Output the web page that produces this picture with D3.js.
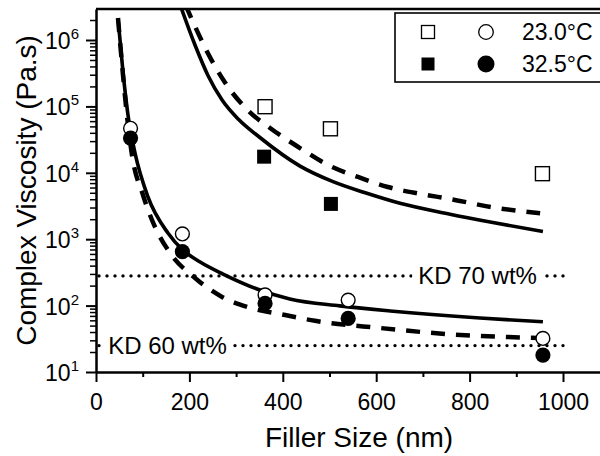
<!DOCTYPE html>
<html>
<head>
<meta charset="utf-8">
<script src="https://cdn.jsdelivr.net/npm/d3@7"></script>
<style>
  html, body { margin: 0; padding: 0; background: #fff; }
  svg { display: block; }
  svg text { font-family: "Liberation Sans", Arial, Helvetica, sans-serif; fill: #000; }
</style>
</head>
<body>
<svg id="chart" width="600" height="456"></svg>
<script>
// Measured complex viscosity (Pa.s) against filler size (nm)
const circleSizes = [74, 185, 362, 540, 957];
const circles23 = [46800, 1200, 145, 121, 32];
const circles32 = [33400, 650, 108, 64, 18];

const squareSizes23 = [362, 502, 956];
const squares23 = [99000, 46000, 9700];
const squareSizes32 = [360, 503];
const squares32 = [17500, 3400];

// Model curves, [filler size, viscosity]
const circleFitSolid = [[47.1, 2.14e6], [57.8, 3.3e5], [68.5, 7.4e4], [83.5, 1.99e4], [111.3, 4330],
  [154, 1240], [186, 687], [223, 454], [272, 299], [345, 178], [415, 126], [522, 99], [630, 83],
  [822, 65], [957, 57]];
const circleFitDashed = [[47.1, 2.14e6], [57.8, 2.97e5], [68.5, 5.25e4], [77.1, 1.85e4], [100.6, 4630],
  [126.3, 1530], [158.5, 620], [212, 261], [270, 135], [325, 95], [405, 72], [469, 59], [608, 46],
  [758, 37], [951, 32.5]];
const squareFitSolid = [[181, 3.25e6], [212, 8.4e5], [240, 2.9e5], [270, 1.25e5], [305, 6.4e4], [351, 3.4e4],
  [437, 1.26e4], [507.5, 7350], [580, 4910], [651, 3470], [758, 2380], [844, 1815], [957, 1306]];
const squareFitDashed = [[191.6, 3.37e6], [206.6, 1.95e6], [238.8, 6.48e5], [276.2, 2.29e5],
  [324.4, 8.84e4], [372.6, 4.73e4], [436.8, 2.36e4], [496.8, 1.31e4], [561, 8650], [625, 6110],
  [696, 4800], [758, 4030], [859, 2950], [951, 2450]];

// Reference levels (Krieger-Dougherty)
const kdLabels = ["KD 70 wt%", "KD 60 wt%"];
const kdValues = [280, 25];

const xMajorTicks = [0, 200, 400, 600, 800, 1000];
const xMinorTicks = [100, 300, 500, 700, 900, 1100];
const yMajorExponents = [1, 2, 3, 4, 5, 6];

const legendLabels = ["23.0°C", "32.5°C"];

(function draw() {
  const svg = d3.select("#chart");
  const mLeft = 96, mTop = 9, mBottom = 372, mRight = 640;

  const x = d3.scaleLinear().domain([0, 1160]).range([mLeft, mLeft + 1160 * 0.467]);
  const y = d3.scaleLog().domain([10, 2.93e6]).range([mBottom, mTop]);

  svg.append("defs").append("clipPath").attr("id", "plot")
    .append("rect").attr("x", mLeft).attr("y", mTop).attr("width", mRight - mLeft).attr("height", mBottom - mTop);

  // Frame top edge
  svg.append("line").attr("x1", mLeft).attr("x2", mRight).attr("y1", mTop).attr("y2", mTop)
    .attr("stroke", "#000").attr("stroke-width", 2.5);

  // X axis
  const xAxis = svg.append("g").attr("transform", `translate(0,${mBottom})`)
    .call(d3.axisBottom(x).tickValues(xMajorTicks).tickFormat(d3.format("d"))
      .tickSize(10).tickSizeOuter(0).tickPadding(12));
  xAxis.attr("font-family", null).attr("font-size", null);
  xAxis.select(".domain").attr("stroke-width", 2.5);
  xAxis.selectAll(".tick line").attr("stroke-width", 2);
  xAxis.selectAll(".tick text").attr("font-size", 23);
  svg.append("g").attr("transform", `translate(0,${mBottom})`)
    .call(d3.axisBottom(x).tickValues(xMinorTicks).tickSize(5).tickFormat(""))
    .call(g => g.select(".domain").remove())
    .selectAll(".tick line").attr("stroke-width", 2);

  // Y axis (log)
  const yAxis = svg.append("g").attr("transform", `translate(${mLeft},0)`)
    .call(d3.axisLeft(y).tickValues(yMajorExponents.map(e => Math.pow(10, e)))
      .tickSize(10).tickSizeOuter(0).tickFormat(""));
  yAxis.select(".domain").attr("stroke-width", 2.5);
  yAxis.selectAll(".tick line").attr("stroke-width", 2);

  const yMinor = [];
  for (let e = 1; e <= 6; e++) for (let m = 2; m <= 9; m++) {
    const v = m * Math.pow(10, e);
    if (v <= y.domain()[1]) yMinor.push(v);
  }
  svg.append("g").attr("transform", `translate(${mLeft},0)`)
    .call(d3.axisLeft(y).tickValues(yMinor).tickSize(6).tickFormat(""))
    .call(g => g.select(".domain").remove())
    .selectAll(".tick line").attr("stroke-width", 1.5);

  const yLab = svg.append("g").selectAll("text").data(yMajorExponents).join("text")
    .attr("x", 79).attr("y", d => y(Math.pow(10, d)) + 9)
    .attr("text-anchor", "end").attr("font-size", 23);
  yLab.append("tspan").text("10");
  yLab.append("tspan").attr("font-size", 15).attr("dy", -10).text(d => d);

  // Axis titles
  svg.append("text").attr("x", 359).attr("y", 447).attr("text-anchor", "middle")
    .attr("font-size", 28).text("Filler Size (nm)");
  svg.append("text").attr("transform", `translate(36,${(mTop + mBottom) / 2}) rotate(-90)`)
    .attr("text-anchor", "middle").attr("font-size", 28).text("Complex Viscosity (Pa.s)");

  const plot = svg.append("g").attr("clip-path", "url(#plot)");

  // KD reference lines with inline labels
  const kdLabelX = [690, 26];
  kdValues.forEach((v, i) => {
    const g = plot.append("g");
    g.append("line").attr("x1", x(0) + 3).attr("x2", x(1000) + 2)
      .attr("y1", y(v)).attr("y2", y(v))
      .attr("stroke", "#000").attr("stroke-width", 3.4).attr("stroke-linecap", "round")
      .attr("stroke-dasharray", "0 8");
    const bg = g.append("rect").attr("fill", "#fff");
    const t = g.append("text").attr("x", x(kdLabelX[i])).attr("y", y(v) + 8)
      .attr("font-size", 24).text(kdLabels[i]);
    const b = t.node().getBBox();
    bg.attr("x", b.x - 6).attr("y", b.y).attr("width", b.width + 12).attr("height", b.height);
  });

  // Model curves
  const line = d3.line().x(d => x(d[0])).y(d => y(d[1])).curve(d3.curveMonotoneX);
  [[circleFitSolid, null], [circleFitDashed, "14 11"], [squareFitSolid, null], [squareFitDashed, "14 11"]]
    .forEach(([pts, dash]) => {
      plot.append("path").attr("d", line(pts)).attr("fill", "none").attr("stroke", "#000")
        .attr("stroke-width", dash ? 4.5 : 3.6).attr("stroke-dasharray", dash);
    });

  // Markers
  const sq = 14, r = 7.6;
  plot.selectAll(".sq23").data(squareSizes23).join("rect")
    .attr("x", (d) => x(d) - sq / 2).attr("y", (d, i) => y(squares23[i]) - sq / 2)
    .attr("width", sq).attr("height", sq).attr("fill", "#fff").attr("stroke", "#000").attr("stroke-width", 1.4);
  plot.selectAll(".sq32").data(squareSizes32).join("rect")
    .attr("x", (d) => x(d) - sq / 2).attr("y", (d, i) => y(squares32[i]) - sq / 2)
    .attr("width", sq).attr("height", sq).attr("fill", "#000");
  plot.selectAll(".c23").data(circleSizes).join("circle")
    .attr("cx", d => x(d)).attr("cy", (d, i) => y(circles23[i])).attr("r", r - 0.7)
    .attr("fill", "#fff").attr("stroke", "#000").attr("stroke-width", 1.4);
  plot.selectAll(".c32").data(circleSizes).join("circle")
    .attr("cx", d => x(d)).attr("cy", (d, i) => y(circles32[i])).attr("r", r)
    .attr("fill", "#000");

  // Legend
  const lg = svg.append("g");
  lg.append("rect").attr("x", 395).attr("y", 13).attr("width", 240).attr("height", 69)
    .attr("fill", "#fff").attr("stroke", "#000").attr("stroke-width", 1.6);
  legendLabels.forEach((lab, i) => {
    const cy = 32 + i * 32;
    const filled = i === 1;
    lg.append("rect").attr("x", 428 - 6.5).attr("y", cy - 6.5).attr("width", 13).attr("height", 13)
      .attr("fill", filled ? "#000" : "#fff").attr("stroke", filled ? "none" : "#000").attr("stroke-width", 1.3);
    lg.append("circle").attr("cx", 486).attr("cy", cy).attr("r", filled ? 8.5 : 7.3)
      .attr("fill", filled ? "#000" : "#fff").attr("stroke", filled ? "none" : "#000").attr("stroke-width", 1.3);
    lg.append("text").attr("x", 522).attr("y", cy + 8).attr("font-size", 23).text(lab);
  });
})();
</script>
</body>
</html>
